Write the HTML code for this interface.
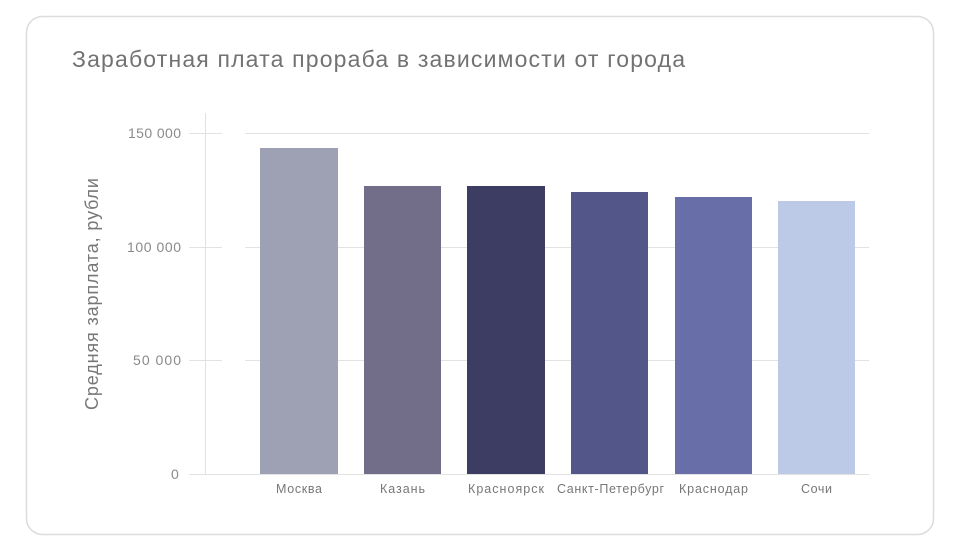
<!DOCTYPE html>
<html><head><meta charset="utf-8"><style>
html,body{margin:0;padding:0;background:#fff;width:960px;height:550px;overflow:hidden}
</style></head><body>
<svg width="960" height="550" xmlns="http://www.w3.org/2000/svg" font-family="Liberation Sans, sans-serif">
<rect x="26.5" y="16.5" width="907" height="518" rx="16" fill="#fff" stroke="#dcdcdc" stroke-width="1.5"/>
<text x="72" y="67" font-size="23" fill="#727272" textLength="613" lengthAdjust="spacing">Заработная плата прораба в зависимости от города</text>
<g stroke="#e2e2e2" stroke-width="1">
<line x1="189" y1="133.5" x2="222" y2="133.5"/><line x1="245" y1="133.5" x2="869" y2="133.5"/>
<line x1="189" y1="247.5" x2="222" y2="247.5"/><line x1="245" y1="247.5" x2="869" y2="247.5"/>
<line x1="189" y1="360.5" x2="222" y2="360.5"/><line x1="245" y1="360.5" x2="869" y2="360.5"/>
<line x1="189" y1="474.5" x2="869" y2="474.5"/>
<line x1="205.5" y1="113" x2="205.5" y2="474"/>
</g>
<g font-size="14" fill="#8a8a8a">
<text x="128" y="138" textLength="53" lengthAdjust="spacing">150 000</text>
<text x="127" y="252" textLength="54" lengthAdjust="spacing">100 000</text>
<text x="133" y="365" textLength="48" lengthAdjust="spacing">50 000</text>
<text x="171" y="479">0</text>
</g>
<text transform="translate(98,410) rotate(-90)" font-size="18" fill="#777" textLength="232" lengthAdjust="spacing">Средняя зарплата, рубли</text>
<rect x="260" y="148" width="78" height="326" fill="#9ea1b4"/>
<rect x="364" y="186" width="77" height="288" fill="#726e8a"/>
<rect x="467" y="186" width="78" height="288" fill="#3d3c63"/>
<rect x="571" y="192" width="77" height="282" fill="#525688"/>
<rect x="675" y="197" width="77" height="277" fill="#676ea8"/>
<rect x="778" y="201" width="77" height="273" fill="#bcc9e7"/>
<g font-size="12.5" fill="#777">
<text x="276" y="493" textLength="46" lengthAdjust="spacing">Москва</text>
<text x="380" y="493" textLength="45" lengthAdjust="spacing">Казань</text>
<text x="468" y="493" textLength="76" lengthAdjust="spacing">Красноярск</text>
<text x="557" y="493" textLength="107" lengthAdjust="spacing">Санкт-Петербург</text>
<text x="679" y="493" textLength="69" lengthAdjust="spacing">Краснодар</text>
<text x="801" y="493" textLength="31" lengthAdjust="spacing">Сочи</text>
</g>
</svg>
</body></html>
